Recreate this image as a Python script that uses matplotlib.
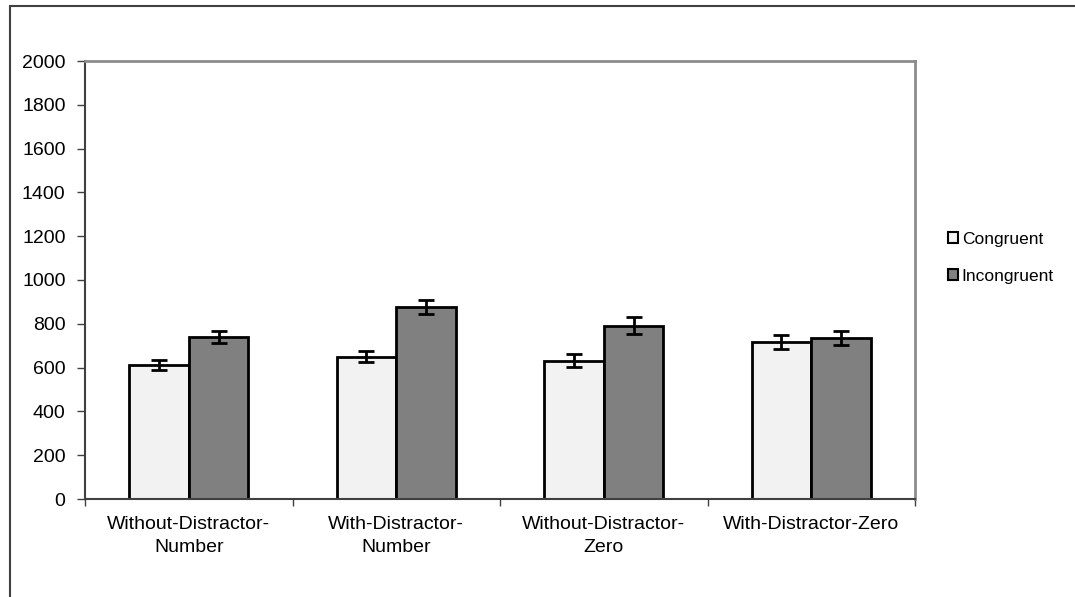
import numpy as np
import matplotlib.pyplot as plt
from matplotlib.patches import Rectangle

plt.rcParams['font.family'] = ['Liberation Sans', 'DejaVu Sans']

conditions = ['Without-Distractor-\nNumber', 'With-Distractor-\nNumber',
              'Without-Distractor-\nZero', 'With-Distractor-Zero']
congruent = [612, 650, 632, 717]
congruent_err = [22, 25, 29, 31]
incongruent = [741, 875, 791, 734]
incongruent_err = [28, 32, 38, 31]

fig = plt.figure(figsize=(10.75, 5.97), dpi=100)
ax = fig.add_axes([85 / 1075, 1 - 499 / 597, 830 / 1075, 438 / 597])

x = np.arange(len(conditions))
w = 0.287
ekw = dict(elinewidth=2, capthick=2, capsize=6, ecolor='black')
ax.bar(x - w / 2, congruent, w, yerr=congruent_err, color='#f2f2f2',
       edgecolor='black', linewidth=2, error_kw=ekw, label='Congruent')
ax.bar(x + w / 2, incongruent, w, yerr=incongruent_err, color='#808080',
       edgecolor='black', linewidth=2, error_kw=ekw, label='Incongruent')

ax.set_xlim(-0.5, len(conditions) - 0.5)
ax.set_ylim(0, 2000)
ax.set_yticks(np.arange(0, 2001, 200))
ax.set_xticks(np.arange(-0.5, len(conditions), 1.0), minor=False)
ax.set_xticklabels([])
ax.set_xticks(x, minor=True)
ax.set_xticklabels(conditions, minor=True, fontsize=14, linespacing=1.5)
ax.tick_params(axis='x', which='minor', length=0, pad=12)
ax.tick_params(axis='x', which='major', length=5, width=1, color='#404040', direction='out')
ax.tick_params(axis='y', length=6, width=1, color='#404040', direction='out',
               labelsize=14, pad=8)

for s in ['top', 'right']:
    ax.spines[s].set_color('#8c8c8c')
    ax.spines[s].set_linewidth(2)
for s in ['left', 'bottom']:
    ax.spines[s].set_color('#404040')
    ax.spines[s].set_linewidth(1.5)

leg = fig.legend(loc='upper left', bbox_to_anchor=(941 / 1075, 1 - 225 / 597),
                 frameon=False, fontsize=12.5, handlelength=0.6, handleheight=0.6,
                 handletextpad=0.2, labelspacing=1.25, borderaxespad=0)
for h in leg.legend_handles:
    h.set_linewidth(1.5)

# outer border of the figure
fig.patches.append(Rectangle((10 / 1075, -0.1), 1.2, 1.1 - 6 / 597,
                             transform=fig.transFigure, fill=False,
                             edgecolor='#404040', linewidth=1.5))

fig.savefig('out.png', dpi=100)
